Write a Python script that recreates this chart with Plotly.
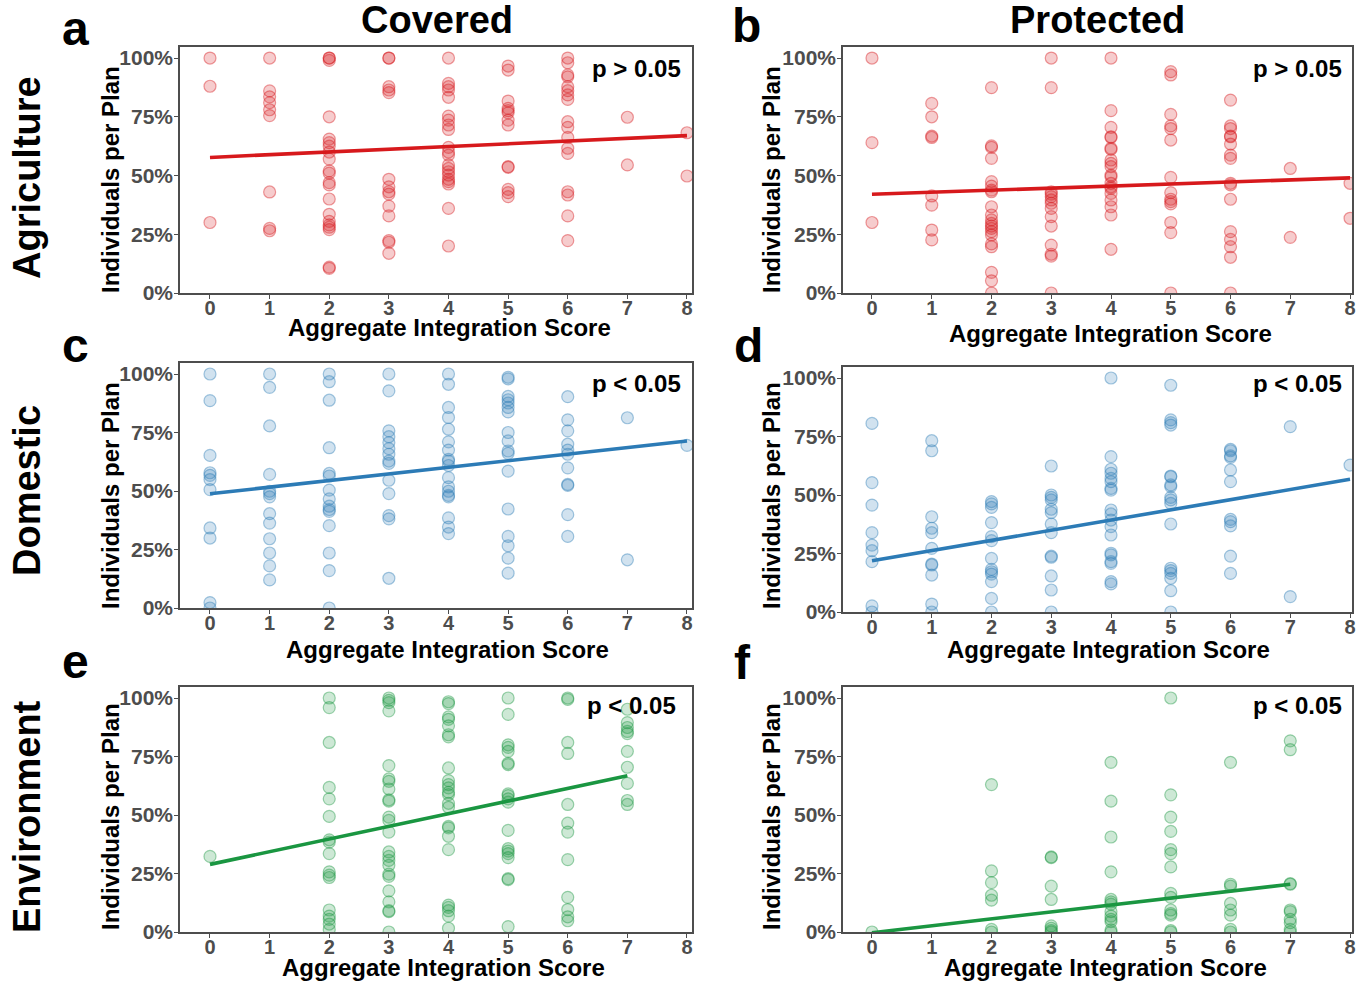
import plotly.graph_objects as go

W, H = 1359, 982

scores = [0, 1, 2, 3, 4, 5, 6, 7, 8]

# values per score (index = Aggregate Integration Score)
agri_covered = [
    [1.00, 0.88, 0.30],
    [1.00, 0.86, 0.835, 0.81, 0.78, 0.755, 0.43, 0.275, 0.265],
    [1.00, 1.00, 0.99, 0.75, 0.655, 0.64, 0.625, 0.60, 0.57, 0.52, 0.51, 0.47, 0.46, 0.40, 0.335, 0.305, 0.29, 0.28, 0.27, 0.11, 0.105],
    [1.00, 1.00, 0.878, 0.864, 0.853, 0.484, 0.452, 0.431, 0.421, 0.37, 0.328, 0.223, 0.216, 0.169],
    [1.00, 0.892, 0.878, 0.864, 0.833, 0.753, 0.736, 0.715, 0.696, 0.62, 0.60, 0.587, 0.545, 0.53, 0.516, 0.502, 0.484, 0.474, 0.464, 0.36, 0.20],
    [0.966, 0.949, 0.817, 0.786, 0.776, 0.767, 0.736, 0.715, 0.538, 0.535, 0.441, 0.427, 0.41],
    [1.00, 0.98, 0.928, 0.92, 0.878, 0.861, 0.843, 0.824, 0.729, 0.705, 0.662, 0.616, 0.594, 0.431, 0.417, 0.328, 0.223],
    [0.748, 0.545],
    [0.682, 0.498],
]
agri_protected = [
    [1.0, 0.64, 0.30],
    [0.807, 0.75, 0.668, 0.662, 0.413, 0.374, 0.268, 0.226],
    [0.874, 0.626, 0.62, 0.573, 0.474, 0.455, 0.438, 0.431, 0.367, 0.332, 0.311, 0.296, 0.285, 0.275, 0.261, 0.247, 0.209, 0.197, 0.088, 0.052, 0.0],
    [1.0, 0.874, 0.431, 0.421, 0.41, 0.396, 0.382, 0.36, 0.325, 0.285, 0.204, 0.165, 0.157, 0.0],
    [1.0, 0.776, 0.705, 0.665, 0.662, 0.616, 0.611, 0.566, 0.552, 0.538, 0.502, 0.495, 0.467, 0.452, 0.445, 0.424, 0.396, 0.367, 0.332, 0.186],
    [0.942, 0.928, 0.76, 0.711, 0.70, 0.651, 0.492, 0.427, 0.399, 0.389, 0.379, 0.30, 0.257, 0.0],
    [0.821, 0.711, 0.70, 0.668, 0.665, 0.634, 0.587, 0.573, 0.467, 0.46, 0.399, 0.261, 0.228, 0.197, 0.152, 0.0],
    [0.53, 0.237],
    [0.467, 0.318],
]
dom_covered = [
    [1.0, 0.886, 0.652, 0.578, 0.567, 0.549, 0.506, 0.342, 0.299, 0.023, 0.0],
    [1.0, 0.943, 0.778, 0.571, 0.499, 0.489, 0.475, 0.403, 0.363, 0.296, 0.235, 0.18, 0.12],
    [1.0, 0.967, 0.888, 0.685, 0.575, 0.564, 0.504, 0.466, 0.435, 0.421, 0.413, 0.352, 0.235, 0.16, 0.0],
    [1.0, 0.928, 0.757, 0.732, 0.707, 0.681, 0.657, 0.628, 0.618, 0.546, 0.489, 0.395, 0.381, 0.127],
    [1.0, 0.956, 0.857, 0.814, 0.764, 0.71, 0.675, 0.635, 0.628, 0.609, 0.557, 0.518, 0.499, 0.481, 0.475, 0.385, 0.346, 0.318],
    [0.986, 0.979, 0.904, 0.89, 0.876, 0.857, 0.838, 0.75, 0.714, 0.671, 0.661, 0.585, 0.423, 0.306, 0.266, 0.213, 0.149],
    [0.903, 0.804, 0.757, 0.70, 0.675, 0.657, 0.599, 0.528, 0.524, 0.399, 0.306],
    [0.813, 0.206],
    [0.695],
]
dom_protected = [
    [0.806, 0.553, 0.457, 0.339, 0.286, 0.262, 0.215, 0.026, 0.0],
    [0.732, 0.689, 0.407, 0.358, 0.339, 0.272, 0.205, 0.201, 0.158, 0.034, 0.0],
    [0.472, 0.462, 0.447, 0.382, 0.322, 0.305, 0.229, 0.182, 0.172, 0.162, 0.13, 0.058, 0.0],
    [0.624, 0.50, 0.49, 0.479, 0.439, 0.425, 0.376, 0.339, 0.239, 0.234, 0.154, 0.094, 0.0],
    [1.0, 0.664, 0.61, 0.593, 0.571, 0.557, 0.528, 0.521, 0.436, 0.419, 0.393, 0.365, 0.329, 0.251, 0.244, 0.215, 0.208, 0.13, 0.12],
    [0.969, 0.821, 0.809, 0.799, 0.581, 0.578, 0.543, 0.536, 0.49, 0.479, 0.464, 0.376, 0.187, 0.177, 0.165, 0.144, 0.091, 0.0],
    [0.695, 0.689, 0.667, 0.661, 0.607, 0.557, 0.396, 0.386, 0.368, 0.239, 0.165],
    [0.792, 0.066],
    [0.628],
]
env_covered = [
    [0.323],
    [],
    [1.0, 0.959, 0.81, 0.618, 0.569, 0.494, 0.394, 0.384, 0.335, 0.257, 0.243, 0.233, 0.094, 0.068, 0.054, 0.034, 0.011],
    [1.0, 0.99, 0.98, 0.945, 0.711, 0.654, 0.644, 0.611, 0.565, 0.559, 0.491, 0.477, 0.427, 0.342, 0.323, 0.306, 0.285, 0.247, 0.238, 0.176, 0.129, 0.091, 0.087, 0.0],
    [0.984, 0.976, 0.919, 0.909, 0.881, 0.843, 0.834, 0.701, 0.647, 0.63, 0.616, 0.597, 0.587, 0.55, 0.533, 0.451, 0.445, 0.409, 0.352, 0.115, 0.105, 0.091, 0.068, 0.016],
    [1.0, 0.93, 0.80, 0.789, 0.772, 0.721, 0.715, 0.59, 0.583, 0.569, 0.555, 0.434, 0.356, 0.346, 0.335, 0.318, 0.228, 0.224, 0.023],
    [1.0, 0.994, 0.81, 0.763, 0.545, 0.465, 0.427, 0.309, 0.148, 0.096, 0.065, 0.048],
    [0.952, 0.895, 0.874, 0.857, 0.848, 0.772, 0.704, 0.635, 0.562, 0.545],
    [],
]
env_protected = [
    [0.0],
    [],
    [0.63, 0.261, 0.211, 0.157, 0.136, 0.011, 0.0],
    [0.321, 0.318, 0.196, 0.139, 0.026, 0.016, 0.006, 0.0],
    [0.725, 0.559, 0.406, 0.257, 0.139, 0.129, 0.119, 0.087, 0.068, 0.054, 0.044, 0.009, 0.0],
    [1.0, 0.586, 0.491, 0.43, 0.352, 0.335, 0.278, 0.165, 0.148, 0.094, 0.079, 0.072, 0.006, 0.0],
    [0.725, 0.204, 0.196, 0.122, 0.094, 0.072, 0.011, 0.0],
    [0.817, 0.779, 0.207, 0.204, 0.094, 0.087, 0.054, 0.04, 0.011, 0.0],
    [],
]

# fitted regression lines: [x0, x1], [y0, y1]
fit_x = {"a": [0, 8], "b": [0, 8], "c": [0, 8], "d": [0, 8], "e": [0, 7], "f": [0, 7]}
fit_y = {"a": [0.577, 0.67], "b": [0.42, 0.49], "c": [0.488, 0.714],
         "d": [0.219, 0.567], "e": [0.289, 0.668], "f": [-0.003, 0.204]}
p_labels = {"a": "p > 0.05", "b": "p > 0.05", "c": "p < 0.05",
            "d": "p < 0.05", "e": "p < 0.05", "f": "p < 0.05"}

col_titles = ["Covered", "Protected"]
row_titles = ["Agriculture", "Domestic", "Environment"]
y_ticks = [0, 0.25, 0.5, 0.75, 1.0]
y_tick_labels = ["0%", "25%", "50%", "75%", "100%"]
x_title = "Aggregate Integration Score"
y_title = "Individuals per Plan"

# ---- styling / layout (pixels) ----
RED = (215, 25, 28)
BLUE = (44, 123, 182)
GREEN = (26, 150, 65)

panels = [
    # key, data, color, plot box px (x0, x1, y0, y1), x-range
    ("a", agri_covered, RED, (180, 692, 47, 293), (-0.503, 8.084)),
    ("b", agri_protected, RED, (843, 1352, 47, 293), (-0.485, 8.033)),
    ("c", dom_covered, BLUE, (180, 692, 363, 608), (-0.503, 8.084)),
    ("d", dom_protected, BLUE, (843, 1352, 367, 612), (-0.485, 8.033)),
    ("e", env_covered, GREEN, (180, 692, 687, 932), (-0.503, 8.084)),
    ("f", env_protected, GREEN, (843, 1352, 687, 932), (-0.485, 8.033)),
]

FONT = "Liberation Sans, Arial, Helvetica, sans-serif"
AX = "#4d4d4d"


def rgba(c, a):
    return f"rgba({c[0]},{c[1]},{c[2]},{a})"


def fx(px):
    return px / W


def fy(py):
    return 1 - py / H


fig = go.Figure()
layout = {}
for i, (key, data, col, box, xr) in enumerate(panels):
    n = "" if i == 0 else str(i + 1)
    x0, x1, y0, y1 = box
    xs, ys = [], []
    for s, vals in zip(scores, data):
        xs += [s] * len(vals)
        ys += vals
    fig.add_trace(go.Scatter(
        x=xs, y=ys, mode="markers", xaxis="x" + n, yaxis="y" + n,
        marker=dict(size=12, color=rgba(col, 0.22),
                    line=dict(color=rgba(col, 0.42), width=1.2)),
        showlegend=False, hoverinfo="skip"))
    fig.add_trace(go.Scatter(
        x=fit_x[key], y=fit_y[key], mode="lines", xaxis="x" + n, yaxis="y" + n,
        line=dict(color=rgba(col, 1), width=3.6), showlegend=False))
    layout["xaxis" + n] = dict(
        domain=[fx(x0), fx(x1)], range=list(xr), anchor="y" + n,
        tickmode="array", tickvals=scores, ticktext=[str(s) for s in scores],
        showgrid=False, zeroline=False, showline=True, mirror=True,
        linecolor=AX, linewidth=1.5, ticks="outside", ticklen=4,
        tickwidth=1.3, tickcolor=AX, ticklabelstandoff=-8, automargin=False,
        ticklabeloverflow="allow",
        tickfont=dict(family=FONT, size=20, color=AX, weight="bold"))
    layout["yaxis" + n] = dict(
        domain=[fy(y1), fy(y0)], range=[0, 1.047], anchor="x" + n,
        tickmode="array", tickvals=y_ticks, ticktext=y_tick_labels,
        showgrid=False, zeroline=False, showline=True, mirror=True,
        linecolor=AX, linewidth=1.5, ticks="outside", ticklen=4,
        tickwidth=1.3, tickcolor=AX, ticklabelstandoff=-3, automargin=False,
        ticklabeloverflow="allow",
        tickfont=dict(family=FONT, size=21, color=AX, weight="bold"))

ann = []


def text(x, y, t, size, angle=0, xanchor="center", yanchor="middle", color="black"):
    ann.append(dict(x=fx(x), y=fy(y), xref="paper", yref="paper",
                    text="<b>" + t + "</b>", showarrow=False, textangle=angle,
                    xanchor=xanchor, yanchor=yanchor,
                    font=dict(family=FONT, size=size, color=color)))


# column titles
text(437, 20, col_titles[0], 38)
text(1097, 20, col_titles[1], 38)
# row titles
text(27, 178, row_titles[0], 38, angle=-90)
text(27, 491, row_titles[1], 38, angle=-90)
text(27, 817, row_titles[2], 38, angle=-90)
# panel letters
letter_pos = {"a": (75, 28), "b": (746, 26), "c": (75, 345), "d": (748, 346),
              "e": (75, 661), "f": (742, 662)}
for k, (lx, ly) in letter_pos.items():
    text(lx, ly, k, 48)
# p-value labels
p_pos = {"a": (683, 69), "b": (1344, 69), "c": (683, 383), "d": (1344, 383),
         "e": (678, 705), "f": (1344, 705)}
for k, (px, py) in p_pos.items():
    text(px, py, p_labels[k], 24, xanchor="right")
# axis titles
xt_pos = {"a": (449, 327), "b": (1110, 333), "c": (447, 649), "d": (1108, 649),
          "e": (443, 967), "f": (1105, 967)}
for k, (tx, ty) in xt_pos.items():
    text(tx, ty, x_title, 24)
yt_pos = {"a": (110, 180), "b": (771, 180), "c": (110, 496), "d": (771, 496),
          "e": (110, 817), "f": (771, 817)}
for k, (tx, ty) in yt_pos.items():
    text(tx, ty, y_title, 24, angle=-90)

fig.update_layout(
    width=W, height=H, autosize=False, margin=dict(l=0, r=0, t=0, b=0),
    paper_bgcolor="white", plot_bgcolor="white",
    annotations=ann, **layout)

fig.write_html("out.html")
